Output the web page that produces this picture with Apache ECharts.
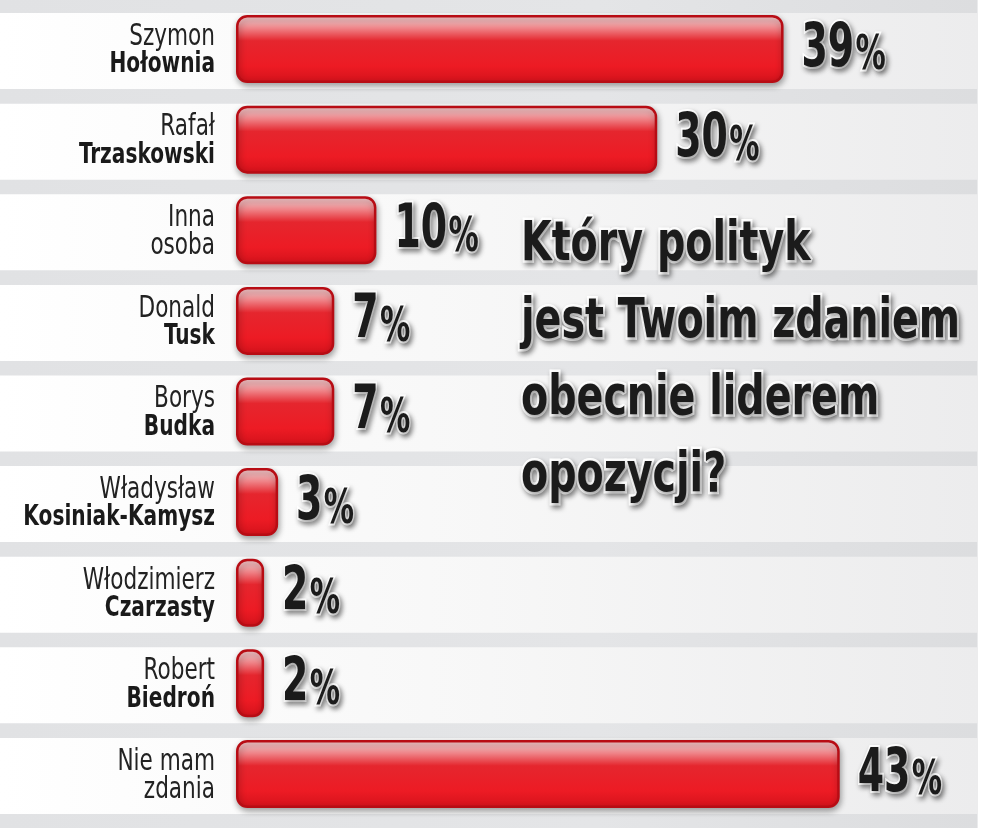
<!DOCTYPE html>
<html>
<head>
<meta charset="utf-8">
<title>Lider opozycji</title>
<script src="https://cdn.jsdelivr.net/npm/echarts@6.0.0/dist/echarts.min.js"></script>
<style>
  html, body { margin: 0; padding: 0; background: #fff; }
  #main { width: 994px; height: 828px; }
</style>
</head>
<body>
<div id="main"></div>
<script>
// dane z sondażu
var firstLines = ['Szymon', 'Rafał', 'Inna', 'Donald', 'Borys', 'Władysław', 'Włodzimierz', 'Robert', 'Nie mam'];
var secondLines = ['Hołownia', 'Trzaskowski', 'osoba', 'Tusk', 'Budka', 'Kosiniak-Kamysz', 'Czarzasty', 'Biedroń', 'zdania'];
var boldSecond = [true, true, false, true, true, true, true, true, false];
var values = [39, 30, 10, 7, 7, 3, 2, 2, 43];
var title = 'Który polityk\njest Twoim zdaniem\nobecnie liderem\nopozycji?';

var categories = firstLines.map(function (f, i) {
  return f + ' ' + secondLines[i];
});
var axisMax = 50;
var bandMax = 100;
var bandValues = categories.map(function () { return bandMax; });
var labelData = values.map(function (v, i) { return [v, i]; });

var FONT = '"DejaVu Sans Condensed", "DejaVu Sans", sans-serif';

// napisy z białą obwódką i cieniem
var outline = {
  stroke: '#ffffff',
  textShadowColor: 'rgba(0,0,0,0.38)',
  textShadowBlur: 5,
  textShadowOffsetX: 2,
  textShadowOffsetY: 3
};

function renderLabels(params, api) {
  var i = params.dataIndex;
  var v = api.value(0);
  var start = api.coord([0, i]);
  var end = api.coord([v, i]);
  var nameText = '{a|' + firstLines[i] + '}\n{' + (boldSecond[i] ? 'b' : 'a') + '|' + secondLines[i] + '}';
  return {
    type: 'group',
    children: [
      {
        type: 'text',
        x: start[0] - 21,
        y: start[1] + 2,
        scaleX: 0.8,
        style: {
          text: nameText,
          align: 'right',
          verticalAlign: 'middle',
          rich: {
            a: { fontFamily: FONT, fontSize: 30, lineHeight: 28, fill: '#222', align: 'right' },
            b: { fontFamily: FONT, fontSize: 28, fontWeight: 'bold', lineHeight: 28, fill: '#1a1a1a', align: 'right' }
          }
        }
      },
      {
        type: 'text',
        x: end[0] + 18,
        y: end[1] + 1,
        scaleX: 0.7,
        style: {
          text: '{n|' + v + '}{p|%}',
          align: 'left',
          verticalAlign: 'middle',
          rich: {
            n: echarts.util.extend({
              fontFamily: FONT, fontWeight: 'bold', fontSize: 60, fill: '#1b1b1b', lineWidth: 4
            }, outline),
            p: echarts.util.extend({
              fontFamily: FONT, fontWeight: 'bold', fontSize: 48, fill: '#1b1b1b', lineWidth: 4,
              padding: [14, 0, 0, 2]
            }, outline)
          }
        }
      }
    ]
  };
}

var chart = echarts.init(document.getElementById('main'), null, { renderer: 'canvas' });

var option = {
  backgroundColor: {
    type: 'linear', x: 0, y: 0, x2: 1, y2: 0,
    colorStops: [
      { offset: 0, color: '#e1e2e4' },
      { offset: 0.6, color: '#e4e5e7' },
      { offset: 0.983, color: '#dcdddf' },
      { offset: 0.984, color: '#ffffff' },
      { offset: 1, color: '#ffffff' }
    ]
  },
  graphic: [
    {
      type: 'text',
      x: 521,
      y: 207,
      scaleX: 0.8,
      z: 10,
      style: echarts.util.extend({
        text: title,
        fontFamily: FONT,
        fontWeight: 'bold',
        fontSize: 55,
        lineHeight: 77,
        fill: '#1b1b1b',
        lineWidth: 5
      }, outline)
    }
  ],
  grid: [
    { left: 236, right: 56, top: 3.7, bottom: 8.7, outerBoundsMode: 'none' },
    { left: 0, right: 16, top: 5.7, bottom: 6.7, outerBoundsMode: 'none' }
  ],
  xAxis: [
    { type: 'value', min: 0, max: axisMax, gridIndex: 0, show: false },
    { type: 'value', min: 0, max: bandMax, gridIndex: 1, show: false }
  ],
  yAxis: [
    { type: 'category', gridIndex: 0, data: categories, inverse: true, show: false },
    { type: 'category', gridIndex: 1, data: categories, inverse: true, show: false }
  ],
  series: [
    {
      type: 'bar',
      xAxisIndex: 1,
      yAxisIndex: 1,
      data: bandValues,
      barWidth: 76,
      silent: true,
      z: 0,
      itemStyle: {
        color: {
          type: 'linear', x: 0, y: 0, x2: 1, y2: 0,
          colorStops: [
            { offset: 0, color: '#ffffff' },
            { offset: 0.5, color: '#f7f7f7' },
            { offset: 1, color: '#ececed' }
          ]
        }
      }
    },
    {
      type: 'bar',
      xAxisIndex: 0,
      yAxisIndex: 0,
      data: values,
      barWidth: 68,
      z: 3,
      itemStyle: {
        borderRadius: 10,
        borderColor: '#b80c14',
        borderWidth: 2.5,
        shadowColor: 'rgba(0,0,0,0.35)',
        shadowBlur: 6,
        shadowOffsetX: 1,
        shadowOffsetY: 3,
        color: {
          type: 'linear', x: 0, y: 0, x2: 0, y2: 1,
          colorStops: [
            { offset: 0, color: '#f9d2d4' },
            { offset: 0.12, color: '#f3a9ac' },
            { offset: 0.38, color: '#e5262e' },
            { offset: 0.75, color: '#ed1b24' },
            { offset: 1, color: '#d3121b' }
          ]
        }
      }
    },
    {
      type: 'custom',
      xAxisIndex: 0,
      yAxisIndex: 0,
      data: labelData,
      encode: { x: 0, y: 1 },
      clip: false,
      silent: true,
      z: 5,
      renderItem: renderLabels
    }
  ]
};

chart.setOption(option);
</script>
</body>
</html>
